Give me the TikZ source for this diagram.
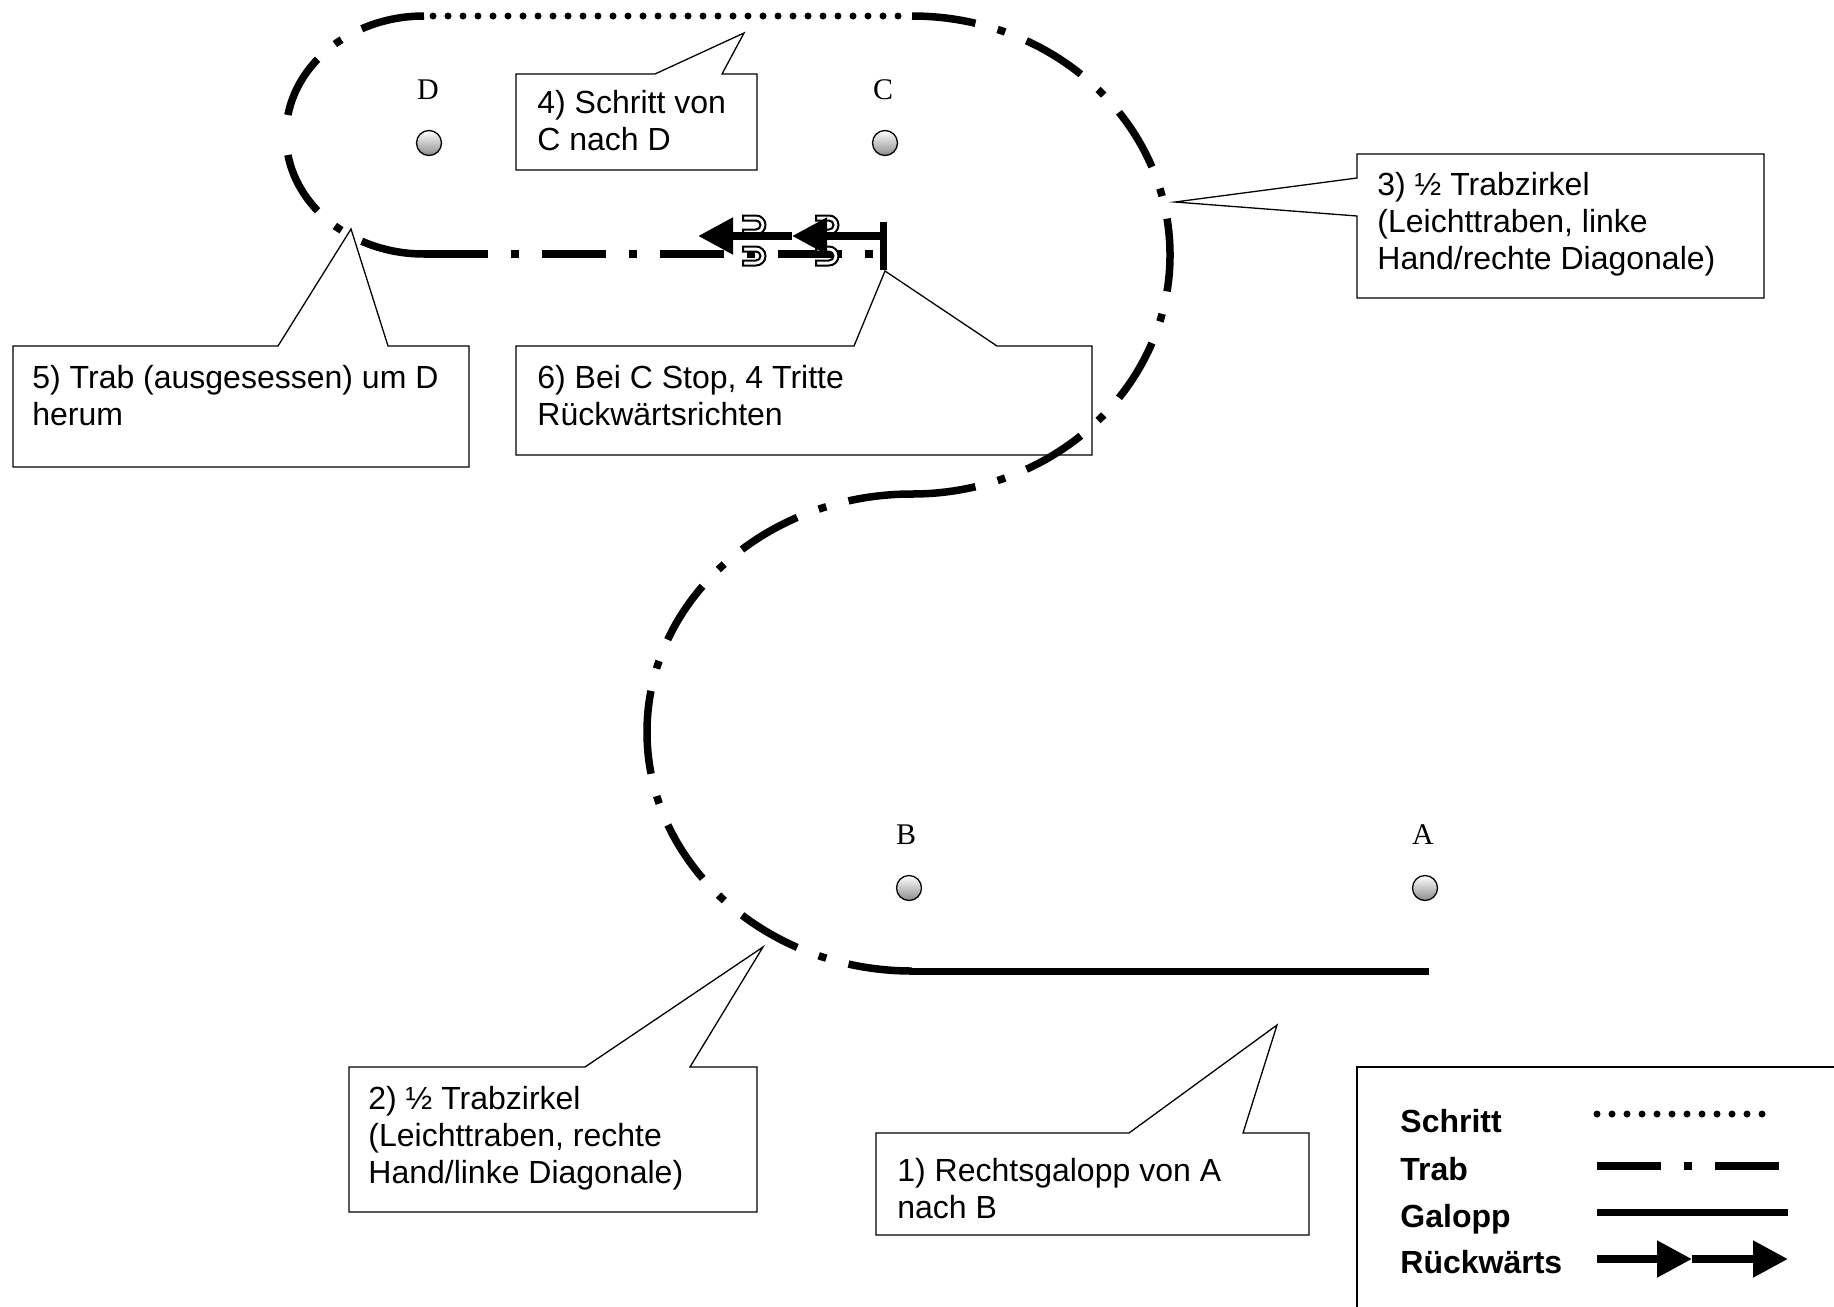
\documentclass[tikz,border=0pt]{standalone}
\usepackage{fontspec}
\setmainfont{Liberation Sans}
\newfontfamily\ltrfont{Liberation Serif}
\usetikzlibrary{arrows.meta}
\begin{document}
\begin{tikzpicture}[x=0.5pt,y=-0.5pt,
  trab/.style={line width=3.75pt, dash pattern=on 32pt off 11.5pt on 4pt off 11.5pt},
  schritt/.style={line width=3.5pt, line cap=round, dash pattern=on 0pt off 7.5pt},
  galopp/.style={line width=3.5pt},
  backarrow/.style={line width=4pt, -{Triangle[length=17.5pt,width=17.5pt]}},
  callout/.style={draw, line width=0.65pt, fill=white, line join=miter},
  ctext/.style={anchor=base west, inner sep=0pt, align=left, font=\fontsize{16pt}{18.5pt}\selectfont},
  ltr/.style={anchor=base, inner sep=0pt, font=\ltrfont\fontsize{15pt}{18pt}\selectfont},
  marker/.style={circle, draw, line width=0.65pt, minimum size=12.5pt, inner sep=0pt, top color=white, bottom color=black!45},
  legtext/.style={anchor=base west, inner sep=0pt, font=\bfseries\fontsize{16pt}{18pt}\selectfont},
  hoof/.pic={\draw[line width=1pt, fill=white] (-13,-9.5) -- (0,-9.5) arc[start angle=-90,end angle=90,radius=9.5] -- (-13,9.5) -- (-13,4.5) -- (0,4.5) arc[start angle=90,end angle=-90,radius=4.5] -- (-13,-4.5) -- cycle;}
]
\useasboundingbox (0,0) rectangle (1834,1306);
\clip (0,0) rectangle (1834,1306);

% ---------- callouts ----------
\coordinate (t1) at (1277,1025);
\coordinate (t2) at (763,947);
\coordinate (t3) at (1175,202);
\coordinate (t4) at (744,33);
\coordinate (t5) at (351,229);
\coordinate (t6) at (885,271);

\draw[callout] (516,74) -- (655,74) -- (t4) -- (722,74) -- (757,74) -- (757,170) -- (516,170) -- cycle;
\draw[callout] (1357,154) -- (1764,154) -- (1764,298) -- (1357,298) -- (1357,216) -- (t3) -- (1357,178) -- cycle;
\draw[callout] (13,346) -- (278,346) -- (t5) -- (388,346) -- (469,346) -- (469,467) -- (13,467) -- cycle;
\draw[callout] (516,346) -- (854,346) -- (t6) -- (997,346) -- (1092,346) -- (1092,455) -- (516,455) -- cycle;
\draw[callout] (349,1067) -- (585,1067) -- (t2) -- (690,1067) -- (757,1067) -- (757,1212) -- (349,1212) -- cycle;
\draw[callout] (876,1133) -- (1129,1133) -- (t1) -- (1243,1133) -- (1309,1133) -- (1309,1235) -- (876,1235) -- cycle;

% base anchor of a multi-line node = baseline of its last line
\node[ctext] (c4) at (537,150) {4) Schritt von\\C nach D};
\node[ctext] (c3) at (1377,269) {3) ½ Trabzirkel\\(Leichttraben, linke\\Hand/rechte Diagonale)};
\node[ctext] (c5) at (32,425) {5) Trab (ausgesessen) um D\\herum};
\node[ctext] (c6) at (537,425) {6) Bei C Stop, 4 Tritte\\Rückwärtsrichten};
\node[ctext] (c2) at (368,1183) {2) ½ Trabzirkel\\(Leichttraben, rechte\\Hand/linke Diagonale)};
\node[ctext] (c1) at (897,1218) {1) Rechtsgalopp von A\\nach B};

% ---------- points ----------
\node[ltr] (lD) at (428,99) {D};
\node[ltr] (lC) at (883,99) {C};
\node[ltr] (lB) at (906,844) {B};
\node[ltr] (lA) at (1423,844) {A};
\node[marker] (pD) at (429,143) {};
\node[marker] (pC) at (885,143) {};
\node[marker] (pB) at (909,888) {};
\node[marker] (pA) at (1425,888) {};

% ---------- track ----------
\coordinate (topD) at (424,16);
\coordinate (botD) at (424,254);
\coordinate (leftD) at (286,135);
\coordinate (topC) at (912,16);
\coordinate (rightC) at (1170,255);
\coordinate (mid) at (912,494);
\coordinate (leftB) at (647,732);
\coordinate (botB) at (912,971);
\coordinate (galEnd) at (1429,971);
\coordinate (stopC) at (883,254);

% 1) Galopp A -> B
\draw[galopp] (botB) -- (galEnd);
% 2) half circle lower
\draw[trab] (mid) .. controls (765.6,494) and (647,600.6) .. (leftB);
\draw[trab] (botB) .. controls (765.6,971) and (647,863.4) .. (leftB);
% 3) half circle upper right
\draw[trab] (topC) .. controls (1054.5,16) and (1170,123) .. (rightC);
\draw[trab] (mid) .. controls (1054.5,494) and (1170,387) .. (rightC);
% 4) Schritt C -> D
\draw[schritt] (898,16) -- (426,16);
% 5) Trab around D
\draw[trab] (topD) .. controls (347.8,16) and (286,69.3) .. (leftD);
\draw[trab] (botD) .. controls (347.8,254) and (286,200.7) .. (leftD);
\draw[trab] (botD) -- (stopC);

% 6) stop and backwards
\pic at (756,225) {hoof};
\pic at (756,256) {hoof};
\pic at (829,225) {hoof};
\pic at (829,256) {hoof};
\coordinate (bar1) at (883,222);
\coordinate (bar2) at (883,270);
\coordinate (bk0) at (883,236);
\coordinate (bk1) at (792,236);
\coordinate (bk2) at (698,236);
\draw[line width=3.5pt] (bar1) -- (bar2);
\draw[backarrow] (bk0) -- (bk1);
\draw[backarrow] (bk1) -- (bk2);

% ---------- legend ----------
\draw[line width=1pt] (1357,1067) rectangle (1860,1330);
\node[legtext] (lg1) at (1400,1132) {Schritt};
\node[legtext] (lg2) at (1400,1180) {Trab};
\node[legtext] (lg3) at (1400,1227) {Galopp};
\node[legtext] (lg4) at (1400,1273) {Rückwärts};
\coordinate (s1) at (1597,1114);
\coordinate (s2) at (1777,1114);
\coordinate (r1) at (1597,1166);
\coordinate (r2) at (1781,1166);
\coordinate (g1) at (1597,1212);
\coordinate (g2) at (1788,1212);
\coordinate (b1) at (1597,1259);
\coordinate (b2) at (1692,1259);
\coordinate (b3) at (1788,1259);
\draw[schritt] (s1) -- (s2);
\draw[trab] (r1) -- (r2);
\draw[galopp] (g1) -- (g2);
\draw[backarrow] (b1) -- (b2);
\draw[backarrow] (b2) -- (b3);
\end{tikzpicture}
\end{document}
